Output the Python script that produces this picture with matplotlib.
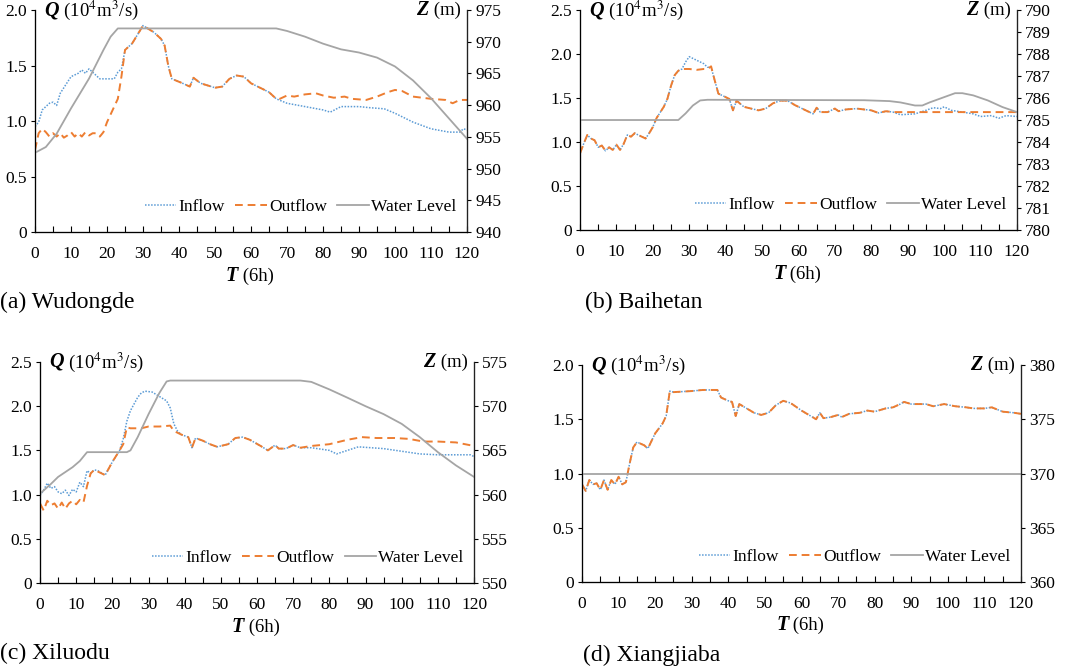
import numpy as np
import matplotlib
matplotlib.use("Agg")
import matplotlib.pyplot as plt

plt.rcParams['font.family'] = ['Liberation Serif', 'DejaVu Serif']
plt.rcParams['mathtext.fontset'] = 'stix'

# ---------------- data ----------------
# (a) Wudongde
a_in_t = [0, 1, 2, 4, 5, 6, 7, 10, 12, 13, 14, 15, 16, 18, 21, 22, 23, 24, 25, 27, 30, 33, 35, 36, 37, 38,
          41, 43, 44, 46, 50, 52, 54, 56, 58, 60, 65, 67, 70, 75, 80, 82, 85, 90, 93, 97, 100, 105, 110, 115,
          118, 119, 120]
a_in_q = [0.95, 0.99, 1.10, 1.16, 1.17, 1.14, 1.25, 1.40, 1.43, 1.46, 1.43, 1.47, 1.44, 1.38, 1.38, 1.38,
          1.44, 1.47, 1.64, 1.70, 1.86, 1.80, 1.74, 1.68, 1.50, 1.38, 1.34, 1.31, 1.39, 1.34, 1.30, 1.31, 1.38,
          1.41, 1.40, 1.34, 1.26, 1.20, 1.16, 1.13, 1.10, 1.08, 1.13, 1.13, 1.12, 1.11, 1.07, 0.99, 0.93, 0.90,
          0.90, 0.93, 0.92]
a_out_t = [0, 1, 2, 3, 4, 5, 6, 7, 8, 9, 10, 11, 12, 13, 14, 15, 16, 17, 18, 19, 20, 22, 23, 24, 25, 27,
           30, 33, 35, 36, 37, 38, 41, 43, 44, 46, 50, 52, 54, 56, 58, 60, 65, 67, 68, 70, 72, 75, 78, 80, 83,
           86, 88, 92, 95, 98, 100, 102, 105, 110, 114, 116, 118, 120]
a_out_q = [0.74, 0.89, 0.93, 0.90, 0.86, 0.89, 0.86, 0.89, 0.85, 0.87, 0.90, 0.86, 0.89, 0.86, 0.90, 0.87,
           0.89, 0.89, 0.86, 0.90, 0.99, 1.13, 1.20, 1.40, 1.64, 1.70, 1.86, 1.80, 1.74, 1.68, 1.50, 1.38,
           1.34, 1.31, 1.39, 1.34, 1.30, 1.31, 1.38, 1.41, 1.40, 1.34, 1.26, 1.20, 1.20, 1.23, 1.22, 1.24,
           1.25, 1.23, 1.21, 1.22, 1.20, 1.19, 1.22, 1.26, 1.28, 1.27, 1.22, 1.20, 1.19, 1.16, 1.19, 1.19]
a_z_t = [0, 3, 6, 10, 15, 19, 21, 23, 67, 70, 75, 80, 85, 90, 95, 100, 105, 110, 115, 120]
a_z = [952.5, 953.4, 955.5, 959.5, 964.2, 968.7, 970.8, 972.1, 972.1, 971.7, 970.8, 969.7, 968.8, 968.3,
       967.5, 966.1, 963.9, 961.1, 957.9, 954.7]

# (b) Baihetan
b_common_t = [0, 1, 2, 3, 4, 5, 6, 7, 8, 9, 10, 11, 12, 13, 14, 15, 16, 18, 19, 20, 21, 23, 24, 25, 26,
              27, 28]
b_common_q = [0.87, 0.98, 1.08, 1.04, 1.02, 0.94, 0.96, 0.90, 0.94, 0.91, 0.97, 0.91, 0.98, 1.08, 1.06,
              1.10, 1.08, 1.04, 1.10, 1.17, 1.27, 1.40, 1.49, 1.64, 1.76, 1.81, 1.83]
b_in_t = [29, 30, 32, 34, 35, 36]
b_in_q = [1.91, 1.97, 1.93, 1.89, 1.85, 1.85]
b_out_t = [29, 30, 32, 34, 35, 36]
b_out_q = [1.83, 1.83, 1.82, 1.83, 1.83, 1.86]
b_mid_t = [37, 38, 40, 41, 42, 43, 45, 47, 49, 51, 53, 55, 57, 59, 62, 64, 65, 66, 68, 70, 71, 73, 76, 80,
           82, 84, 86]
b_mid_q = [1.70, 1.55, 1.51, 1.49, 1.36, 1.47, 1.40, 1.38, 1.36, 1.38, 1.44, 1.47, 1.47, 1.42, 1.36, 1.32,
           1.39, 1.34, 1.34, 1.38, 1.35, 1.37, 1.38, 1.36, 1.33, 1.35, 1.34]
b_in_end_t = [88, 92, 95, 97, 99, 100, 102, 105, 108, 110, 113, 115, 117, 120]
b_in_end_q = [1.31, 1.32, 1.36, 1.39, 1.38, 1.40, 1.36, 1.34, 1.32, 1.29, 1.30, 1.27, 1.30, 1.29]
b_out_end_t = [90, 100, 110, 120]
b_out_end_q = [1.34, 1.34, 1.34, 1.34]
b_z_t = [0, 27, 29, 31, 33, 35, 78, 85, 88, 92, 94, 96, 100, 103, 105, 108, 112, 116, 120]
b_z = [785.0, 785.0, 785.3, 785.66, 785.89, 785.92, 785.9, 785.86, 785.8, 785.66, 785.66, 785.8, 786.04,
       786.22, 786.22, 786.12, 785.89, 785.59, 785.36]

# (c) Xiluodu
c_in_t = [0, 1, 2, 3, 4, 5, 6, 7, 8, 9, 10, 11, 12, 13, 14, 15, 16, 18, 20, 22, 23, 24, 25, 27, 28, 29,
          31, 33, 35, 36, 37, 38]
c_in_q = [0.99, 1.05, 1.13, 1.07, 1.09, 1.03, 1.01, 1.05, 0.99, 1.06, 1.03, 1.14, 1.09, 1.27, 1.24, 1.28,
          1.27, 1.22, 1.37, 1.50, 1.63, 1.83, 1.95, 2.10, 2.15, 2.17, 2.16, 2.11, 2.06, 1.98, 1.80, 1.72]
c_out_t = [0, 1, 2, 3, 4, 5, 6, 7, 8, 9, 10, 11, 12, 13, 14, 15, 17, 18, 20, 22, 23, 24, 25, 28, 30, 33,
           36, 37, 38]
c_out_q = [0.90, 0.82, 0.93, 0.88, 0.90, 0.84, 0.91, 0.84, 0.90, 0.93, 0.89, 0.94, 0.91, 1.10, 1.24, 1.28,
           1.24, 1.22, 1.37, 1.50, 1.57, 1.76, 1.75, 1.75, 1.77, 1.77, 1.78, 1.72, 1.70]
c_mid_t = [39, 41, 42, 43, 45, 47, 49, 52, 54, 56, 58, 61, 63, 65, 66, 68, 70, 72]
c_mid_q = [1.68, 1.65, 1.53, 1.64, 1.61, 1.57, 1.54, 1.57, 1.64, 1.65, 1.62, 1.55, 1.50, 1.56, 1.52, 1.52,
           1.56, 1.53]
c_out_end_t = [75, 80, 85, 89, 93, 98, 102, 106, 110, 115, 120]
c_out_end_q = [1.55, 1.57, 1.62, 1.65, 1.64, 1.64, 1.63, 1.60, 1.60, 1.59, 1.55]
c_in_end_t = [75, 80, 82, 85, 88, 95, 100, 105, 110, 119, 120]
c_in_end_q = [1.53, 1.50, 1.46, 1.50, 1.54, 1.52, 1.49, 1.46, 1.45, 1.45, 1.43]
c_z_t = [0, 3, 5, 9, 11, 13, 24, 25, 27, 30, 33, 35, 36, 72, 75, 80, 85, 90, 95, 100, 105, 110, 115, 120]
c_z = [560.1, 561.2, 562.0, 563.1, 563.8, 564.8, 564.8, 565.0, 566.5, 569.1, 571.5, 572.8, 572.9, 572.9,
       572.75, 571.9, 570.96, 570.0, 569.1, 568.0, 566.5, 564.8, 563.3, 562.0]

# (d) Xiangjiaba  (inflow and outflow coincide)
d_t = [0, 1, 2, 3, 4, 5, 6, 7, 8, 9, 10, 11, 12, 13, 14, 15, 17, 18, 19, 20, 22, 23, 24, 25, 30, 33, 37,
       38, 40, 41, 42, 43, 45, 47, 49, 51, 53, 55, 57, 60, 62, 64, 65, 66, 68, 70, 71, 73, 76, 78, 80, 83,
       85, 87, 88, 90, 94, 96, 99, 102, 105, 107, 110, 112, 115, 118, 120]
d_q = [0.90, 0.84, 0.94, 0.90, 0.91, 0.85, 0.94, 0.85, 0.94, 0.90, 0.97, 0.90, 0.92, 1.09, 1.24, 1.29,
       1.26, 1.23, 1.30, 1.37, 1.46, 1.53, 1.76, 1.75, 1.76, 1.77, 1.77, 1.70, 1.67, 1.66, 1.53, 1.64, 1.60,
       1.56, 1.54, 1.56, 1.63, 1.67, 1.65, 1.58, 1.54, 1.50, 1.56, 1.51, 1.52, 1.54, 1.52, 1.55, 1.56, 1.58,
       1.57, 1.60, 1.61, 1.64, 1.66, 1.64, 1.64, 1.62, 1.64, 1.62, 1.61, 1.60, 1.60, 1.61, 1.57, 1.56, 1.55]
d_z_t = [0, 120]
d_z = [370, 370]

C_IN = '#5b9bd5'
C_OUT = '#ed7d31'
C_Z = '#a5a5a5'
FS = 12.5


def setup(ax, qmax, zlim, zstep):
    ax.set_xlim(0, 120)
    ax.set_ylim(0, qmax)
    ax.set_xticks(np.arange(0, 121, 10))
    ax.set_xticks(np.arange(0, 121, 5), minor=True)
    ax.set_yticks(np.arange(0, qmax + 0.01, 0.5))
    ax.set_yticklabels(['0'] + ['%.1f' % v for v in np.arange(0.5, qmax + 0.01, 0.5)])
    ax.tick_params(axis='x', which='both', direction='in', length=4, width=0.8, labelsize=FS, pad=10)
    ax.tick_params(axis='y', direction='out', length=3, labelsize=FS, pad=3)
    ax.spines['top'].set_visible(False)
    for s in ['left', 'bottom']:
        ax.spines[s].set_linewidth(0.9)
        ax.spines[s].set_color('#222222')
    az = ax.twinx()
    az.set_ylim(*zlim)
    az.set_yticks(np.arange(zlim[0], zlim[1] + 0.01, zstep))
    az.tick_params(axis='y', direction='out', length=3, labelsize=FS, pad=3)
    az.spines['top'].set_visible(False)
    az.spines['right'].set_linewidth(0.9)
    az.spines['right'].set_color('#222222')
    # axis captions
    q = ax.text(0.022, 1.0, 'Q', transform=ax.transAxes, fontsize=FS + 2, fontweight='bold',
                fontstyle='italic', va='center', ha='left')
    ax.annotate(' (10$^4$m$^3$/s)', xy=(1, 0.5), xycoords=q, fontsize=FS + 1, va='center', ha='left')
    m = ax.text(0.985, 1.0, ' (m)', transform=ax.transAxes, fontsize=FS + 1, va='center', ha='right')
    ax.annotate('Z', xy=(0, 0.5), xycoords=m, fontsize=FS + 2, fontweight='bold', fontstyle='italic',
                va='center', ha='right')
    t = ax.text(0.47, -0.2, 'T', transform=ax.transAxes, fontsize=FS + 2, fontweight='bold',
                fontstyle='italic', va='center', ha='right')
    ax.annotate(' (6h)', xy=(1, 0.5), xycoords=t, fontsize=FS + 1, va='center', ha='left')
    return az


def legend(ax, az):
    h1, l1 = ax.get_legend_handles_labels()
    h2, l2 = az.get_legend_handles_labels()
    az.legend(h1 + h2, l1 + l2, loc='lower right', bbox_to_anchor=(1.0, 0.03), ncol=3, frameon=False,
              fontsize=FS, handlelength=1.8, handletextpad=0.15, columnspacing=0.6, borderaxespad=0.2)


fig = plt.figure(figsize=(10.65, 6.69), dpi=100)

# (a)
ax = fig.add_axes([0.0329, 0.6532, 0.4056, 0.3318])
az = setup(ax, 2.0, (940, 975), 5)
ax.plot(a_in_t, a_in_q, ls=(0, (1, 1)), color=C_IN, lw=1.1, label='Inflow')
ax.plot(a_out_t, a_out_q, ls=(0, (4, 2.5)), color=C_OUT, lw=1.4, label='Outflow')
az.plot(a_z_t, a_z, color=C_Z, lw=1.3, label='Water Level')
legend(ax, az)
fig.text(0.0, 1 - 302 / 669, '(a) Wudongde', fontsize=17, va='center', ha='left')

# (b)
ax = fig.add_axes([0.5446, 0.6562, 0.4103, 0.3288])
az = setup(ax, 2.5, (780, 790), 1)
ax.plot(b_common_t + b_in_t + b_mid_t + b_in_end_t, b_common_q + b_in_q + b_mid_q + b_in_end_q,
        ls=(0, (1, 1)), color=C_IN, lw=1.1, label='Inflow')
ax.plot(b_common_t + b_out_t + b_mid_t + b_out_end_t, b_common_q + b_out_q + b_mid_q + b_out_end_q,
        ls=(0, (4, 2.5)), color=C_OUT, lw=1.4, label='Outflow')
az.plot(b_z_t, b_z, color=C_Z, lw=1.3, label='Water Level')
legend(ax, az)
fig.text(585 / 1065, 1 - 302 / 669, '(b) Baihetan', fontsize=17, va='center', ha='left')

# (c)
ax = fig.add_axes([0.0376, 0.1286, 0.4075, 0.3303])
az = setup(ax, 2.5, (550, 575), 5)
ax.plot(c_in_t + c_mid_t + c_in_end_t, c_in_q + c_mid_q + c_in_end_q,
        ls=(0, (1, 1)), color=C_IN, lw=1.1, label='Inflow')
ax.plot(c_out_t + c_mid_t + c_out_end_t, c_out_q + c_mid_q + c_out_end_q,
        ls=(0, (4, 2.5)), color=C_OUT, lw=1.4, label='Outflow')
az.plot(c_z_t, c_z, color=C_Z, lw=1.3, label='Water Level')
legend(ax, az)
fig.text(0.0, 1 - 653 / 669, '(c) Xiluodu', fontsize=17, va='center', ha='left')

# (d)
ax = fig.add_axes([0.5465, 0.13, 0.4122, 0.3244])
az = setup(ax, 2.0, (360, 380), 5)
ax.plot(d_t, d_q, ls=(0, (1, 1)), color=C_IN, lw=1.1, label='Inflow')
ax.plot(d_t, d_q, ls=(0, (4, 2.5)), color=C_OUT, lw=1.4, label='Outflow')
az.plot(d_z_t, d_z, color=C_Z, lw=1.3, label='Water Level')
legend(ax, az)
fig.text(583 / 1065, 1 - 655 / 669, '(d) Xiangjiaba', fontsize=17, va='center', ha='left')

fig.savefig('out.png', dpi=100)
